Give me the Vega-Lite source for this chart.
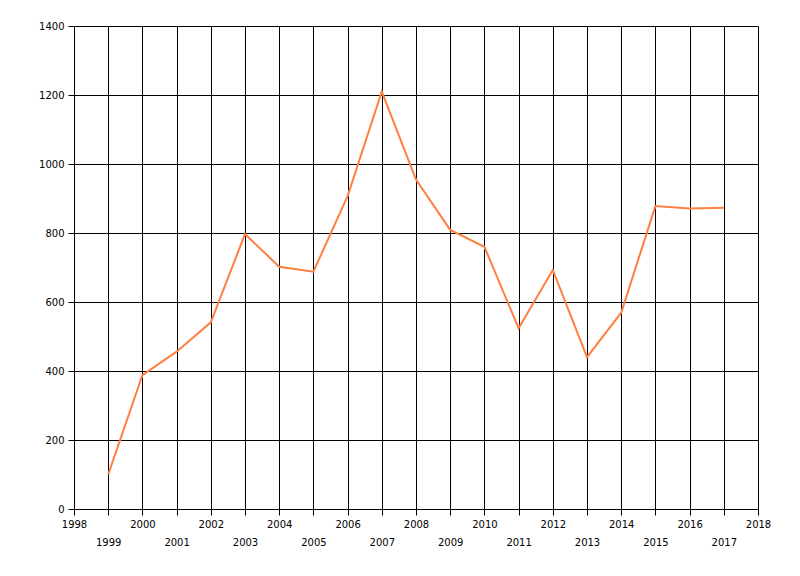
{
  "$schema": "https://vega.github.io/schema/vega-lite/v6.json",
  "autosize": "none",
  "width": 684,
  "height": 483,
  "padding": {"left": 74, "top": 26, "right": 42, "bottom": 67},
  "background": "white",
  "config": {
    "view": {"stroke": null},
    "axis": {
      "labelFont": "DejaVu Sans",
      "labelFontSize": 10,
      "labelColor": "black",
      "domainColor": "black",
      "tickColor": "black",
      "gridColor": "black",
      "gridOpacity": 1,
      "tickSize": 6,
      "title": null
    }
  },
  "data": {
    "values": [
      {"year": 1999, "value": 100},
      {"year": 2000, "value": 388},
      {"year": 2001, "value": 456},
      {"year": 2002, "value": 541},
      {"year": 2003, "value": 797},
      {"year": 2004, "value": 702},
      {"year": 2005, "value": 688},
      {"year": 2006, "value": 907},
      {"year": 2007, "value": 1210},
      {"year": 2008, "value": 955},
      {"year": 2009, "value": 809},
      {"year": 2010, "value": 760},
      {"year": 2011, "value": 524},
      {"year": 2012, "value": 693},
      {"year": 2013, "value": 440},
      {"year": 2014, "value": 569},
      {"year": 2015, "value": 878},
      {"year": 2016, "value": 871},
      {"year": 2017, "value": 873}
    ]
  },
  "layer": [
    {
      "mark": {"type": "line", "color": "#FF7F41", "strokeWidth": 2},
      "encoding": {
        "x": {
          "field": "year",
          "type": "quantitative",
          "scale": {"domain": [1998, 2018], "nice": false, "zero": false},
          "axis": {
            "orient": "bottom",
            "values": [1998, 1999, 2000, 2001, 2002, 2003, 2004, 2005, 2006, 2007, 2008, 2009, 2010, 2011, 2012, 2013, 2014, 2015, 2016, 2017, 2018],
            "format": "d",
            "labelExpr": "datum.value % 2 == 0 ? datum.label : ''",
            "labelPadding": 4,
            "labelFlush": false,
            "labelOverlap": false
          }
        },
        "y": {
          "field": "value",
          "type": "quantitative",
          "scale": {"domain": [0, 1400], "nice": false},
          "axis": {
            "values": [0, 200, 400, 600, 800, 1000, 1200, 1400],
            "format": "d",
            "labelPadding": 4,
            "labelFlush": false
          }
        }
      }
    },
    {
      "mark": {"type": "point", "opacity": 0},
      "encoding": {
        "x": {
          "field": "year",
          "type": "quantitative",
          "scale": {"domain": [1998, 2018], "nice": false, "zero": false},
          "axis": {
            "orient": "bottom",
            "values": [1999, 2001, 2003, 2005, 2007, 2009, 2011, 2013, 2015, 2017],
            "format": "d",
            "grid": false,
            "ticks": false,
            "domain": false,
            "labelPadding": 28,
            "labelFlush": false,
            "labelOverlap": false
          }
        },
        "y": {
          "field": "value",
          "type": "quantitative",
          "scale": {"domain": [0, 1400], "nice": false}
        }
      }
    }
  ],
  "resolve": {"axis": {"x": "independent"}}
}
